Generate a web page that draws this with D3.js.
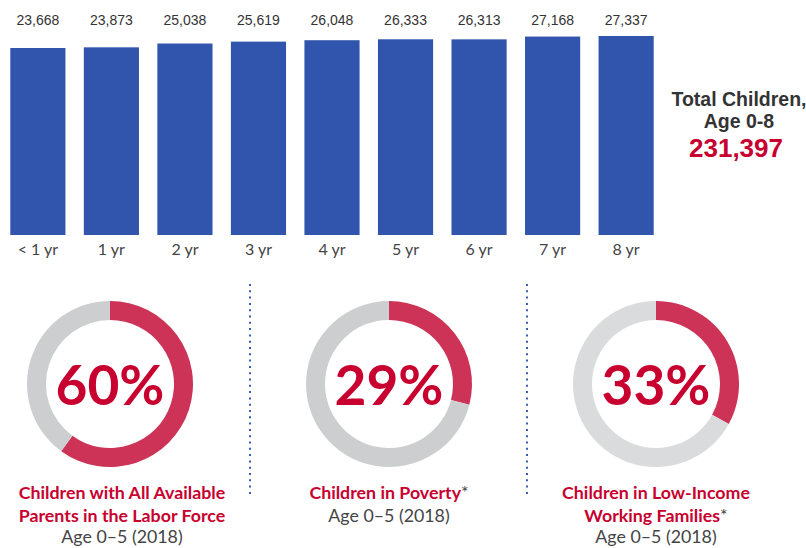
<!DOCTYPE html>
<html>
<head>
<meta charset="utf-8">
<script src="https://cdn.jsdelivr.net/npm/d3@7"></script>
<style>
  body { margin: 0; background: #fff; }
  svg { display: block; }
</style>
</head>
<body>
<script>
// Width and height
var w = 806;
var h = 548;

// Data
var ages = ["< 1 yr", "1 yr", "2 yr", "3 yr", "4 yr", "5 yr", "6 yr", "7 yr", "8 yr"];
var children = [23668, 23873, 25038, 25619, 26048, 26333, 26313, 27168, 27337];
var totalChildren = 231397;

var donutValues = [60, 29, 33];
var donutTitles = [
  ["Children with All Available", "Parents in the Labor Force"],
  ["Children in Poverty*"],
  ["Children in Low-Income", "Working Families*"]
];
var donutSub = ["Age 0\u20135 (2018)", "Age 0\u20135 (2018)", "Age 0\u20135 (2018)"];

var blue = "#3155ad";
var red = "#c8002f";
var ringRed = "#cc3356";

var svg = d3.select("body")
            .append("svg")
            .attr("width", w)
            .attr("height", h);

// Scales for the bars
var xScale = d3.scaleBand()
              .domain(ages)
              .range([0, 664])
              .paddingInner(0.25)
              .paddingOuter(0.14);

// baseline is not zero in the original graphic
var yScale = d3.scaleLinear()
              .domain([-33500, 27337])
              .range([235, 36]);

// Bars
svg.selectAll("rect.bar")
  .data(children)
  .enter()
  .append("rect")
  .attr("class", "bar")
  .attr("x", function(d, i) { return xScale(ages[i]); })
  .attr("y", function(d) { return yScale(d); })
  .attr("width", xScale.bandwidth())
  .attr("height", function(d) { return yScale.range()[0] - yScale(d); })
  .attr("fill", blue);

// Value labels
svg.selectAll("text.val")
  .data(children)
  .enter()
  .append("text")
  .attr("class", "val")
  .text(function(d) { return d3.format(",")(d); })
  .attr("x", function(d, i) { return xScale(ages[i]) + xScale.bandwidth() / 2; })
  .attr("y", 25)
  .attr("text-anchor", "middle")
  .attr("font-family", "Liberation Sans, Arial, sans-serif")
  .attr("font-size", "14px")
  .attr("fill", "#333");

// X axis (labels only)
var xAxis = d3.axisBottom(xScale).tickSize(0).tickPadding(9);
var gx = svg.append("g")
  .attr("transform", "translate(0,235)")
  .call(xAxis);
gx.select(".domain").remove();
gx.selectAll("text")
  .attr("font-family", "Lato, sans-serif")
  .attr("font-size", "16px")
  .attr("fill", "#444");

// Total
var tot = svg.append("g")
  .attr("font-family", "Liberation Sans, Arial, sans-serif")
  .attr("font-weight", "bold")
  .attr("text-anchor", "middle");
tot.append("text").attr("x", 739).attr("y", 106).attr("font-size", "19.5px").attr("fill", "#333").text("Total Children,");
tot.append("text").attr("x", 739).attr("y", 128).attr("font-size", "19.5px").attr("fill", "#333").text("Age 0-8");
tot.append("text").attr("x", 736).attr("y", 157).attr("font-size", "26px").attr("fill", red).text(d3.format(",")(totalChildren));

// Donuts
var donutX = [110, 389, 656];
var donutY = 384;
var arc = d3.arc().innerRadius(64).outerRadius(83);
var pie = d3.pie().sort(null);
var greys = ["#cdcecf", "#cdcecf", "#dadbdc"];

donutValues.forEach(function(v, i) {
  var g = svg.append("g").attr("transform", "translate(" + donutX[i] + "," + donutY + ")");
  g.selectAll("path")
    .data(pie([v, 100 - v]))
    .enter()
    .append("path")
    .attr("d", arc)
    .attr("fill", function(d, j) { return j === 0 ? ringRed : greys[i]; });
  g.append("text")
    .attr("y", 21)
    .attr("text-anchor", "middle")
    .attr("font-family", "Lato, sans-serif")
    .attr("font-weight", "bold")
    .attr("font-size", "55px")
    .attr("fill", red)
    .text(v + "%");

  var lab = svg.append("g")
    .attr("text-anchor", "middle")
    .attr("font-family", "Lato, sans-serif")
    .attr("font-size", "17.8px");
  var lines = donutTitles[i];
  lines.forEach(function(t, k) {
    var txt = lab.append("text")
      .attr("x", i === 0 ? 122 : donutX[i])
      .attr("y", 499 + k * 23)
      .attr("font-weight", "bold")
      .attr("fill", red);
    if (t.slice(-1) === "*") {
      txt.append("tspan").text(t.slice(0, -1));
      txt.append("tspan").attr("fill", "#444").attr("font-weight", "normal").text("*");
    } else {
      txt.text(t);
    }
  });
  lab.append("text")
    .attr("x", i === 0 ? 122 : donutX[i])
    .attr("y", 499 + lines.length * 23 - (lines.length === 2 ? 2 : 0))
    .attr("fill", "#444")
    .text(donutSub[i]);
});

// Dotted separators
[250, 527].forEach(function(x) {
  svg.append("line")
    .attr("x1", x).attr("x2", x)
    .attr("y1", 284).attr("y2", 498)
    .attr("stroke", "#3a5cb0")
    .attr("stroke-width", 2)
    .attr("stroke-dasharray", "2,4.3");
});
</script>
</body>
</html>
